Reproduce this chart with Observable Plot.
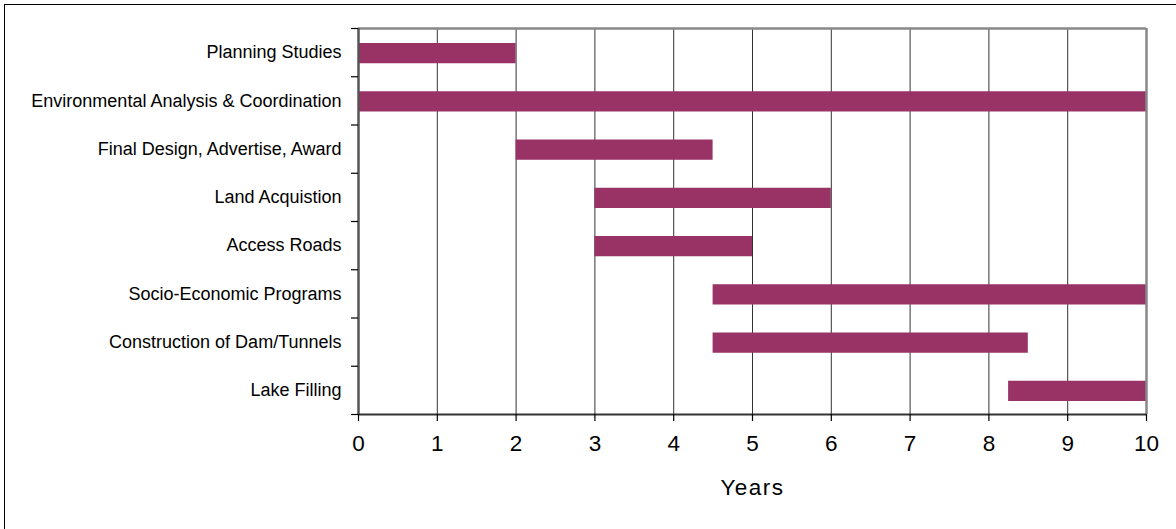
<!DOCTYPE html>
<html>
<head>
<meta charset="utf-8">
<script src="https://cdn.jsdelivr.net/npm/d3@7"></script>
<script src="https://cdn.jsdelivr.net/npm/@observablehq/plot@0.6"></script>
<style>
  html, body { margin: 0; padding: 0; background: #fff; overflow: hidden; }
  #wrap { position: relative; width: 1176px; height: 529px; overflow: hidden; }
  #border { position: absolute; left: 4px; top: 4px; width: 1300px; height: 700px; border: 1.5px solid #000; pointer-events: none; }
</style>
</head>
<body>
<div id="wrap"><div id="chart"></div><div id="border"></div></div>
<script>
const tasks = [
  "Planning Studies",
  "Environmental Analysis & Coordination",
  "Final Design, Advertise, Award",
  "Land Acquistion",
  "Access Roads",
  "Socio-Economic Programs",
  "Construction of Dam/Tunnels",
  "Lake Filling"
];
const starts = [0, 0, 2, 3, 3, 4.5, 4.5, 8.25];
const ends   = [2, 10, 4.5, 6, 5, 10, 8.5, 10];
const xTicks = [0, 1, 2, 3, 4, 5, 6, 7, 8, 9, 10];
const xLabel = "Years";

const rows = tasks.map((t, i) => ({task: t, row: i, start: starts[i], end: ends[i]}));
const boundaries = d3.range(0, tasks.length + 1);
const centers = tasks.map((t, i) => i + 0.5);

const plot = Plot.plot({
  width: 1176,
  height: 529,
  marginLeft: 358,
  marginRight: 30,
  marginTop: 28,
  marginBottom: 115,
  style: {fontFamily: "'Liberation Sans', Arial, sans-serif", color: "#000", background: "transparent"},
  x: {domain: [0, 10]},
  y: {domain: [0, tasks.length], reverse: true},
  marks: [
    Plot.ruleX(xTicks.slice(1, -1), {stroke: "#333", strokeWidth: 1}),
    Plot.rectX(rows, {x1: "start", x2: "end", y1: "row", y2: (d) => d.row + 1, insetTop: 15, insetBottom: 13, fill: "#993366"}),
    Plot.ruleY([0], {stroke: "#888", strokeWidth: 2.5}),
    Plot.ruleX([10], {stroke: "#888", strokeWidth: 2.5}),
    Plot.ruleX([0], {stroke: "#555", strokeWidth: 2.5}),
    Plot.ruleY([tasks.length], {stroke: "#333", strokeWidth: 2}),
    Plot.axisY({ticks: boundaries, tickSize: 7, tickFormat: () => "", stroke: "#000", strokeWidth: 1.2, label: null}),
    Plot.axisY({ticks: centers, tickSize: 0, tickPadding: 17, tickFormat: (v) => tasks[Math.floor(v)], fontSize: 18, label: null}),
    Plot.axisX({ticks: xTicks, tickSize: 7, tickPadding: 14, fontSize: 22.5, stroke: "#000", strokeWidth: 1.2, label: null}),
    Plot.text([xLabel], {text: (d) => d, frameAnchor: "bottom", lineAnchor: "bottom", dy: 80, fontSize: 22.5, fill: "#000"})
  ]
});
d3.select(plot).selectAll("text").filter(function() { return this.textContent === xLabel; }).style("letter-spacing", "1.5px");
document.getElementById("chart").appendChild(plot);
</script>
</body>
</html>
